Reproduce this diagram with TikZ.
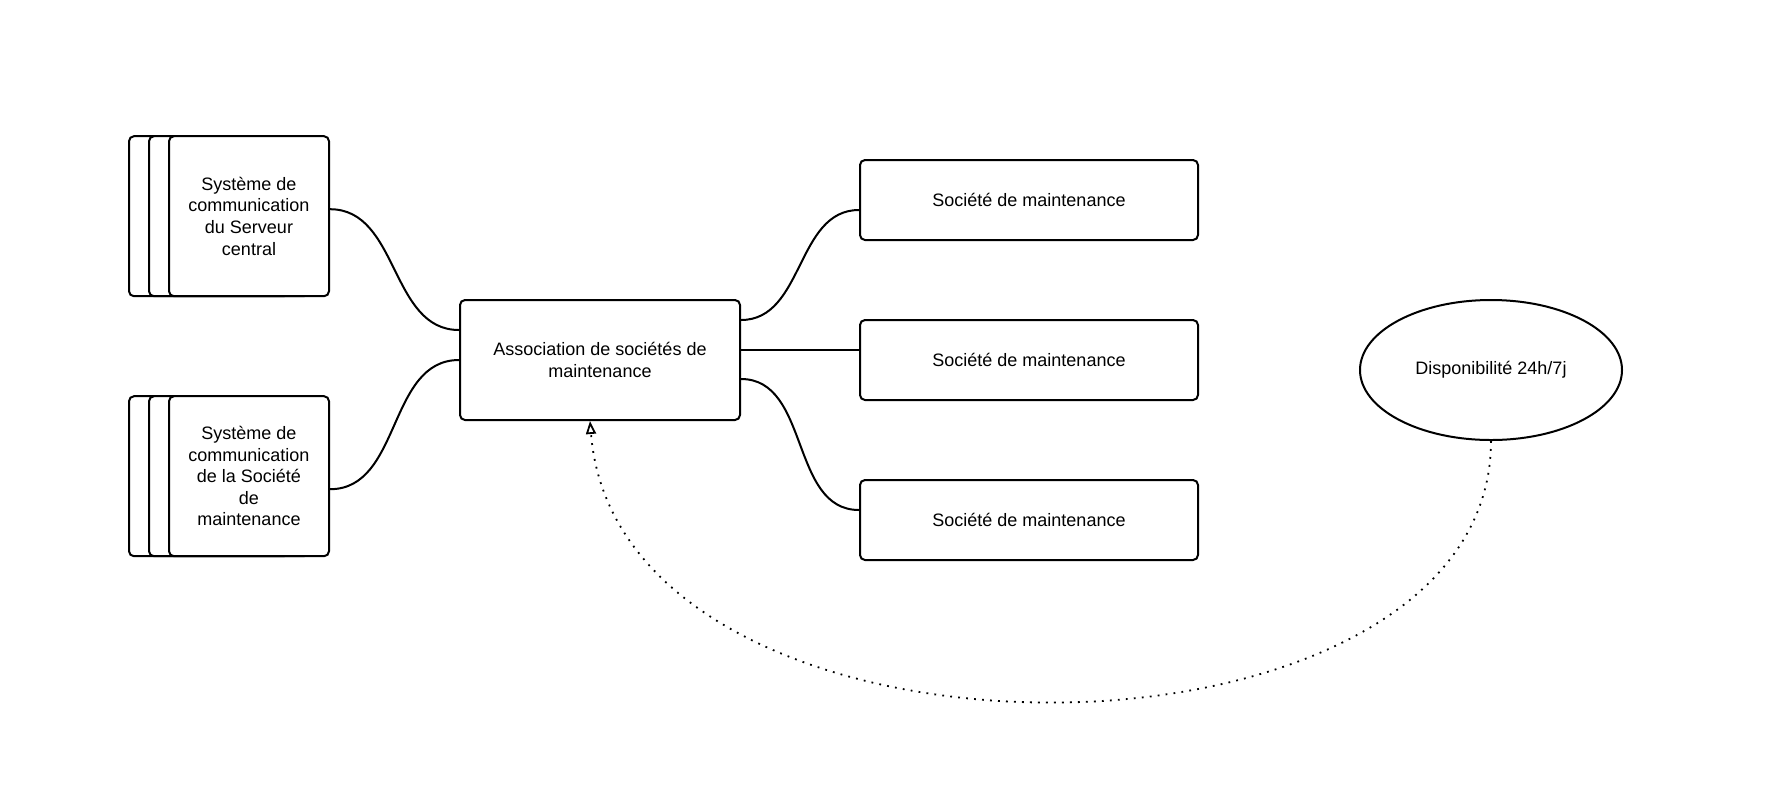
\documentclass[tikz,border=0pt]{standalone}
\usepackage{fontspec}
\setmainfont{Liberation Sans}
\usetikzlibrary{arrows.meta,positioning,shapes.geometric,shadows}

\begin{document}
\begin{tikzpicture}[
        x=0.5pt, y=-0.5pt,
        node distance=39pt and 59pt,
        every node/.style={font=\fontsize{9}{10.8}\selectfont},
        box/.style={draw, rectangle, rounded corners=2.5pt, line width=1pt, align=center, fill=white, inner sep=3pt},
        stackbox/.style={box, minimum width=80pt, minimum height=80pt,
            copy shadow={shadow xshift=-20pt, shadow yshift=0pt},
            copy shadow={shadow xshift=-10pt, shadow yshift=0pt}},
        socbox/.style={box, minimum width=169pt, minimum height=40pt},
        goal/.style={draw, ellipse, line width=1pt, align=center, minimum width=131pt, minimum height=70pt, inner sep=2pt},
        link/.style={line width=1pt},
        dep/.style={line width=0.9pt, dash pattern=on 0.9pt off 3.1pt, -{Triangle[open, length=6.5pt, width=5pt, line width=0.9pt]}}]

        \useasboundingbox (0,0) rectangle (1774,805);

        % Association
        \node[box, minimum width=140pt, minimum height=60pt] (assoc) at (600,360) {Association de sociétés de\\maintenance};

        % Communication systems
        \node[stackbox, above left=0.9pt and 64.5pt of assoc] (srv) {Système de\\communication\\du Serveur\\central};
        \node[stackbox, below=49pt of srv] (mnt) {Système de\\communication\\de la Société\\de\\maintenance};

        % Maintenance companies
        \node[socbox, right=of assoc] (soc2) {Société de maintenance};
        \node[socbox, above=of soc2] (soc1) {Société de maintenance};
        \node[socbox, below=of soc2] (soc3) {Société de maintenance};

        % Availability
        \node[goal, right=80pt of soc2, yshift=-5pt] (avail) {Disponibilité 24h/7j};

        % Connections
        \draw[link] ([yshift=3.5pt]srv.east) to[out=0, in=180] ([yshift=15pt]assoc.west);
        \draw[link] ([yshift=-6.5pt]mnt.east) to[out=0, in=180] (assoc.west);

        \draw[link] ([yshift=20pt]assoc.east) to[out=0, in=180] ([yshift=-5pt]soc1.west);
        \draw[link] ([yshift=5pt]assoc.east) -- ([yshift=5pt]soc2.west);
        \draw[link] ([yshift=-9.5pt]assoc.east) to[out=0, in=180] ([yshift=5pt]soc3.west);

        \draw[dep] (avail.south) .. controls +(0,345) and +(30,375) .. ([xshift=-5pt]assoc.south);

    \end{tikzpicture}
\end{document}
